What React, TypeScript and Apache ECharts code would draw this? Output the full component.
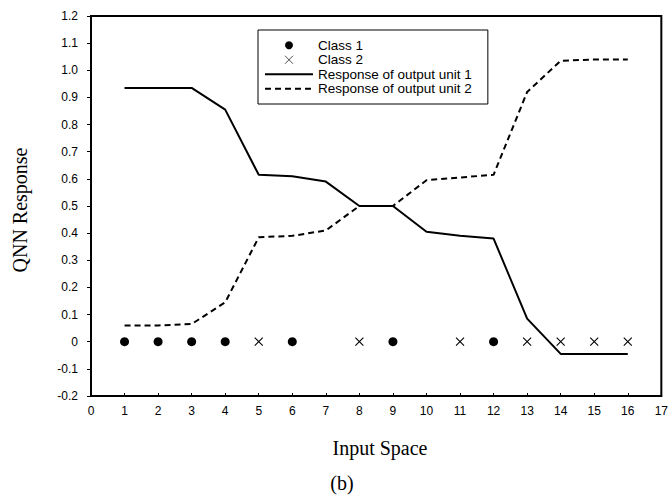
import React, { useEffect, useRef } from "react";
import * as echarts from "echarts";

// Input positions and the two output-unit responses
const inputX = [1, 2, 3, 4, 5, 6, 7, 8, 9, 10, 11, 12, 13, 14, 15, 16];
const unit1Response = [0.935, 0.935, 0.935, 0.855, 0.615, 0.61, 0.59, 0.5, 0.5, 0.405, 0.39, 0.38, 0.085, -0.045, -0.045, -0.045];
const unit2Response = [0.06, 0.06, 0.065, 0.145, 0.385, 0.39, 0.41, 0.5, 0.5, 0.595, 0.605, 0.615, 0.92, 1.035, 1.04, 1.04];

// Training samples, all placed on the zero line
const class1X = [1, 2, 3, 4, 6, 9, 12];
const class2X = [5, 8, 11, 13, 14, 15, 16];
const sampleLevel = 0;

const seriesNames = ["Class 1", "Class 2", "Response of output unit 1", "Response of output unit 2"];

const SANS = "'Liberation Sans', Arial, Helvetica, sans-serif";
const SERIF = "'Liberation Serif', 'Times New Roman', serif";

export default function App() {
  const ref = useRef<HTMLDivElement>(null);

  useEffect(() => {
    if (!ref.current) return;
    const chart = echarts.init(ref.current, null, { renderer: "svg" });

    const pair = (xs: number[], ys: number[]) => xs.map((x, i) => [x, ys[i]]);
    // line entries in the legend show only the stroke, no point marker
    const hiddenMarker = { color: "rgba(0,0,0,0)", borderWidth: 0, opacity: 0 };

    chart.setOption({
      animation: false,
      backgroundColor: "#fff",
      grid: {
        left: 91,
        right: 5,
        top: 16,
        bottom: 104,
        show: true,
        borderColor: "#000",
        borderWidth: 2,
      },
      legend: {
        orient: "vertical",
        left: 258,
        top: 30,
        data: [
          { name: seriesNames[0] },
          { name: seriesNames[1], itemStyle: { borderWidth: 0.7 } },
          { name: seriesNames[2], itemStyle: hiddenMarker },
          { name: seriesNames[3], itemStyle: hiddenMarker },
        ],
        itemWidth: 48,
        itemHeight: 8,
        itemGap: 0,
        padding: [8, 16, 8, 6],
        borderColor: "#000",
        borderWidth: 1,
        backgroundColor: "#fff",
        selectedMode: false,
        textStyle: {
          fontFamily: SANS,
          fontSize: 13.5,
          lineHeight: 14.5,
          color: "#000",
        },
      },
      xAxis: {
        type: "value",
        min: 0,
        max: 17,
        interval: 1,
        axisLine: { onZero: false, lineStyle: { color: "#000", width: 2 } },
        axisTick: { inside: true, length: 3, lineStyle: { color: "#000" } },
        axisLabel: { fontFamily: SANS, fontSize: 12, color: "#000", margin: 9 },
        splitLine: { show: false },
      },
      yAxis: {
        type: "value",
        min: -0.2,
        max: 1.2,
        interval: 0.1,
        axisLine: { onZero: false, lineStyle: { color: "#000", width: 2 } },
        axisTick: { inside: false, length: 4, lineStyle: { color: "#000" } },
        axisLabel: {
          fontFamily: SANS,
          fontSize: 12,
          color: "#000",
          margin: 13,
          formatter: (v: number) => (Math.abs(v) < 1e-9 ? "0" : v.toFixed(1)),
        },
        splitLine: { show: false },
      },
      series: [
        {
          name: seriesNames[0],
          type: "scatter",
          symbol: "circle",
          symbolSize: 9,
          itemStyle: { color: "#000", opacity: 1 },
          data: class1X.map((x) => [x, sampleLevel]),
          z: 5,
        },
        {
          name: seriesNames[1],
          type: "scatter",
          symbol: "path://M0,0L10,10M10,0L0,10",
          symbolSize: 8,
          itemStyle: { color: "rgba(0,0,0,0)", borderColor: "#000", borderWidth: 1.1, opacity: 1 },
          data: class2X.map((x) => [x, sampleLevel]),
          z: 5,
        },
        {
          name: seriesNames[2],
          type: "line",
          symbol: "none",
          showSymbol: false,
          lineStyle: { color: "#000", width: 2, type: "solid" },
          itemStyle: { color: "#000" },
          data: pair(inputX, unit1Response),
        },
        {
          name: seriesNames[3],
          type: "line",
          symbol: "none",
          showSymbol: false,
          lineStyle: { color: "#000", width: 2, type: [6, 4] },
          itemStyle: { color: "#000" },
          data: pair(inputX, unit2Response),
        },
      ],
      graphic: [
        {
          type: "text",
          x: 20,
          y: 210,
          rotation: Math.PI / 2,
          style: {
            text: "QNN Response",
            font: `20px ${SERIF}`,
            fill: "#000",
            align: "center",
            verticalAlign: "middle",
          },
        },
        {
          type: "text",
          x: 380,
          y: 448,
          style: {
            text: "Input Space",
            font: `20px ${SERIF}`,
            fill: "#000",
            align: "center",
            verticalAlign: "middle",
          },
        },
        {
          type: "text",
          x: 342,
          y: 483,
          style: {
            text: "(b)",
            font: `20px ${SERIF}`,
            fill: "#000",
            align: "center",
            verticalAlign: "middle",
          },
        },
      ],
    });

    return () => chart.dispose();
  }, []);

  return <div ref={ref} style={{ width: 671, height: 500, position: "absolute", left: 0, top: 0 }} />;
}
